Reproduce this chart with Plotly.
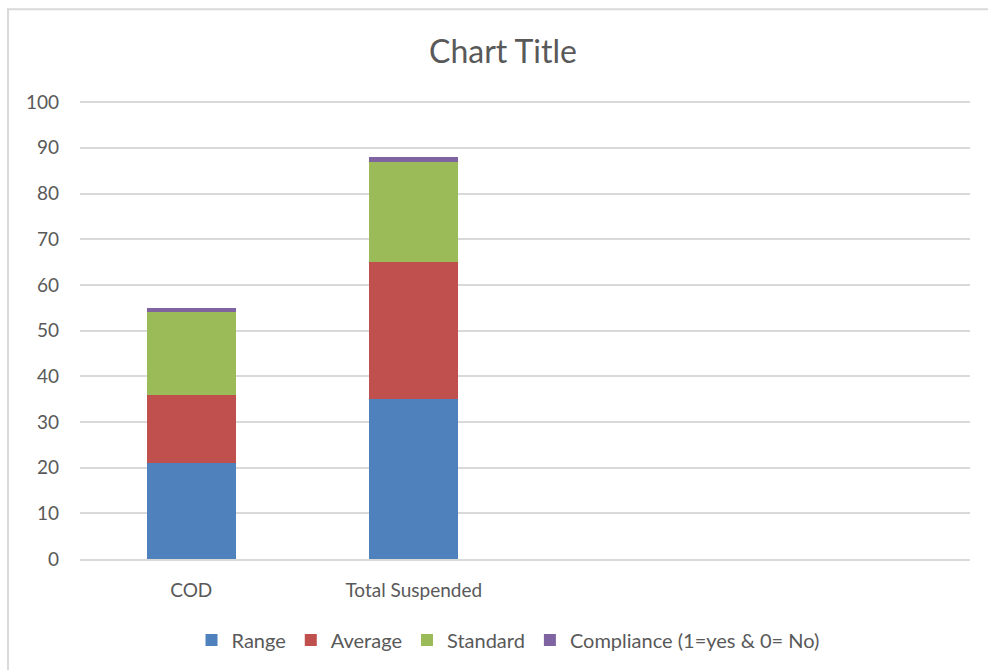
import plotly.graph_objects as go

# Categories on the x axis (two measured parameters plus two empty slots)
categories = ["COD", "Total Suspended"]
n_slots = 4

# Stacked series values
range_vals = [21, 35]
average_vals = [15, 30]
standard_vals = [18, 22]
compliance_vals = [1, 1]

series = [
    ("Range", range_vals, "#4F81BD"),
    ("Average", average_vals, "#C0504D"),
    ("Standard", standard_vals, "#9BBB59"),
    ("Compliance (1=yes & 0= No)", compliance_vals, "#8064A2"),
]

y_ticks = list(range(0, 101, 10))

font_family = "Lato, 'Open Sans', sans-serif"
text_gray = "#595959"
grid_gray = "#d9d9d9"

fig = go.Figure()
for name, vals, color in series:
    fig.add_trace(go.Bar(
        x=categories, y=vals, name=name,
        marker=dict(color=color, line=dict(width=0)),
        width=0.4,
    ))

# Page geometry (pixels) used to place the frame around the chart
W, H = 988, 670
L, R, T, B = 80, 18, 101, 110
pw, ph = W - L - R, H - T - B

def px_x(x):
    return (x - L) / pw

def px_y(y):
    return (H - B - y) / ph

# Light frame around the chart area (left and top edges)
fig.add_shape(type="line", xref="paper", yref="paper",
              x0=px_x(8), x1=px_x(8), y0=px_y(H + 5), y1=px_y(9),
              line=dict(color=grid_gray, width=2))
fig.add_shape(type="line", xref="paper", yref="paper",
              x0=px_x(7), x1=px_x(W + 5), y0=px_y(9), y1=px_y(9),
              line=dict(color=grid_gray, width=2))

fig.update_layout(
    width=W, height=H,
    margin=dict(l=L, r=R, t=T, b=B, pad=0),
    barmode="stack",
    paper_bgcolor="white",
    plot_bgcolor="white",
    font=dict(family=font_family, color=text_gray, size=19),
    title=dict(text="Chart Title", x=px_x(503), xref="paper", xanchor="center",
               y=1 - 52 / H, yanchor="middle",
               font=dict(size=32, color=text_gray, family=font_family)),
    xaxis=dict(
        type="category",
        range=[-0.5, n_slots - 0.5],
        showgrid=False,
        showline=True, linecolor=grid_gray, linewidth=1.5,
        ticks="", ticklen=0, ticklabelstandoff=13,
        tickfont=dict(size=19, color=text_gray),
        fixedrange=True,
    ),
    yaxis=dict(
        range=[0, 100.25],
        tickvals=y_ticks,
        showgrid=True, gridcolor=grid_gray, gridwidth=1.5,
        zeroline=False,
        showline=False,
        ticks="", ticklabelstandoff=20,
        tickfont=dict(size=19, color=text_gray),
        fixedrange=True,
    ),
    legend=dict(
        orientation="h",
        x=px_x(508), xref="paper", xanchor="center",
        y=px_y(640), yanchor="middle",
        font=dict(size=20, color=text_gray),
        traceorder="normal",
        itemsizing="constant",
    ),
    bargap=0.6,
)

fig.write_html("out.html")
